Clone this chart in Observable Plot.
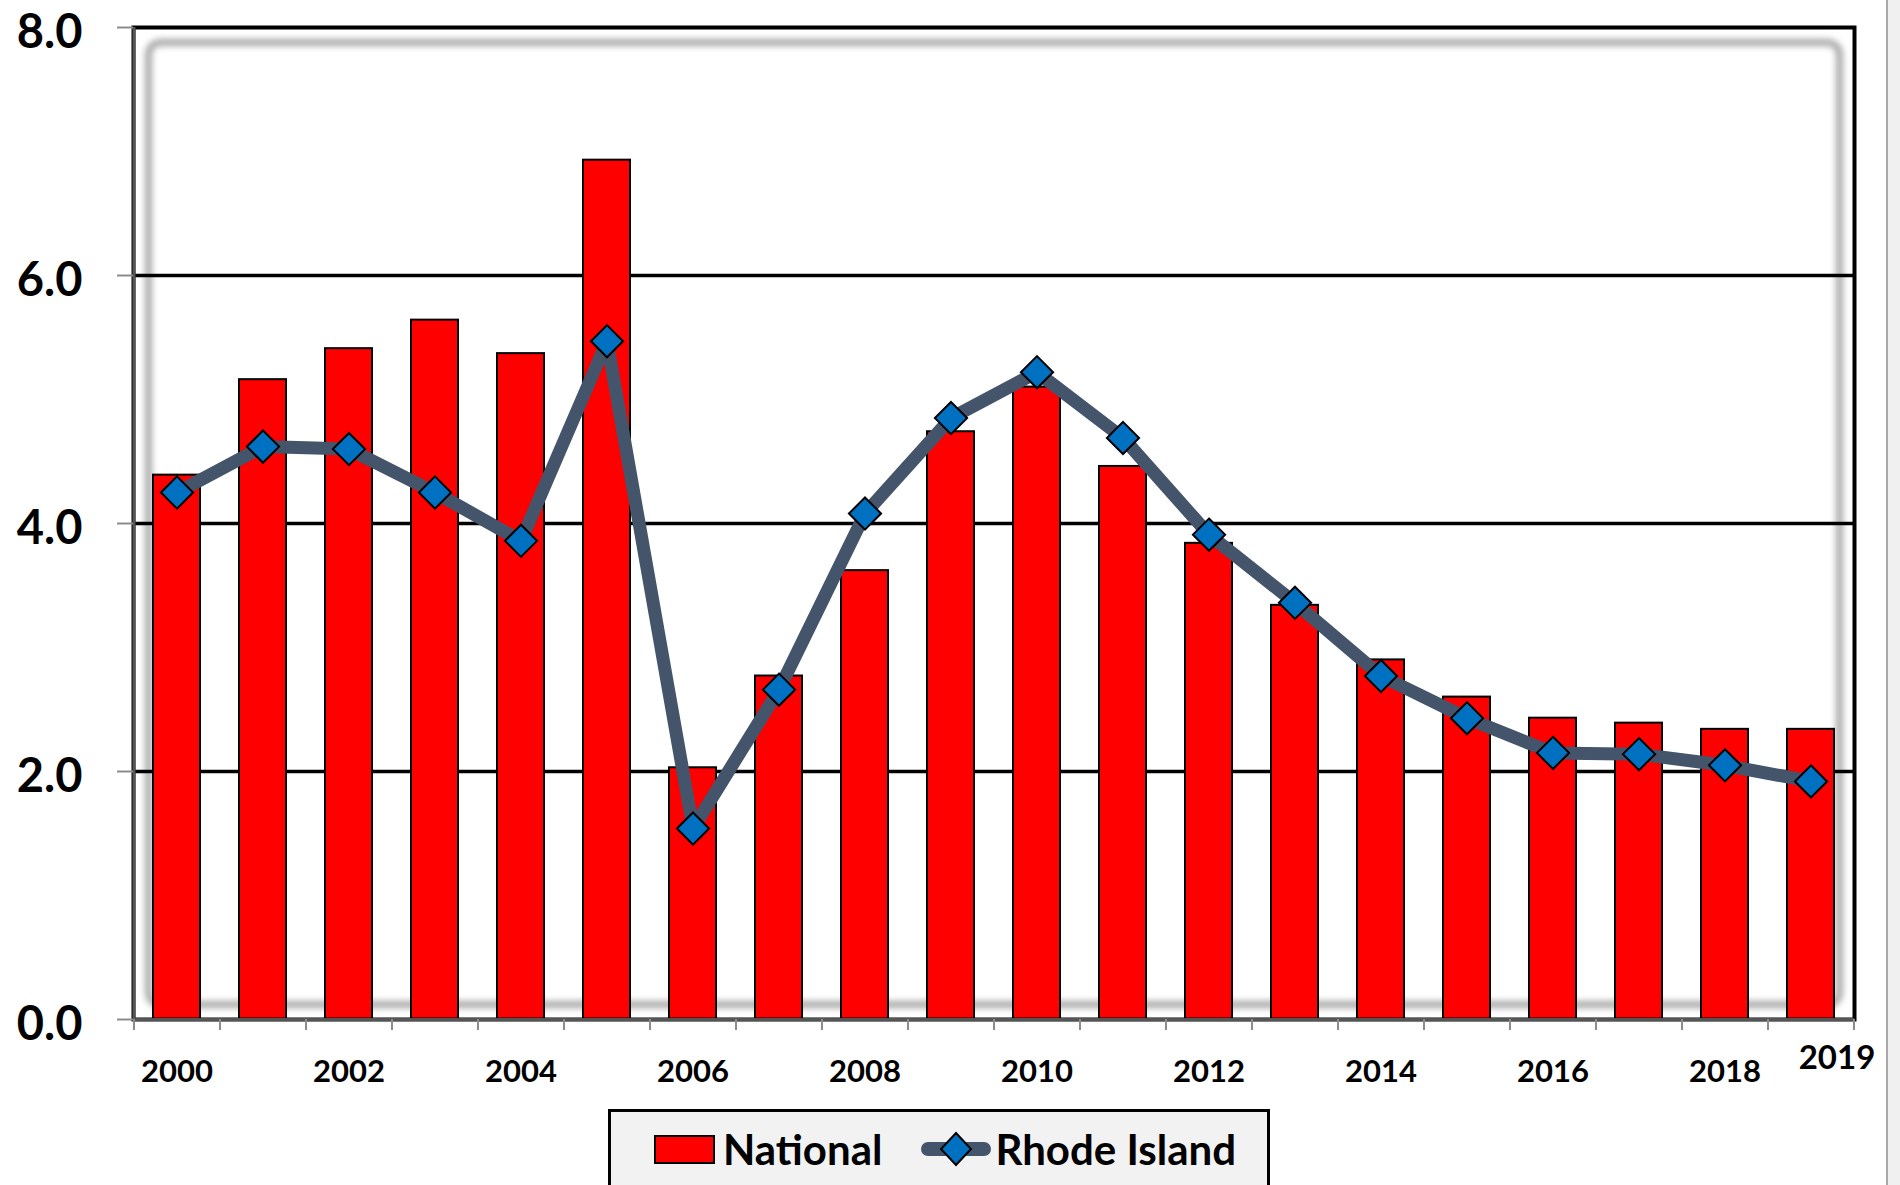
<!DOCTYPE html>
<html>
<head>
<meta charset="utf-8">
<script src="https://cdn.jsdelivr.net/npm/d3@7"></script>
<script src="https://cdn.jsdelivr.net/npm/@observablehq/plot@0.6"></script>
<style>
  html, body { margin: 0; padding: 0; background: #fff; }
  body { font-family: Lato, "Open Sans", sans-serif; width: 1900px; height: 1185px; overflow: hidden; position: relative; }
  #chart svg { display: block; }
  #legend {
    margin-left: 608px; margin-top: 9px; width: 656px; height: 74px;
    border: 3px solid #000; background: #f2f2f2;
    display: flex; align-items: center; font: bold 42px Lato, sans-serif; color: #000;
  }
  #legend .sw-bar { width: 57px; height: 25px; background: #ff0000; border: 2px solid #000; margin-left: 43px; margin-right: 8px; }
  #legend .sw-line { margin-left: 39px; margin-right: 4px; display: block; }
  #edge { position: absolute; left: 1886px; top: 0; width: 14px; height: 1185px; background: #f0f0f0; border-left: 2px solid #a8a8a8; box-sizing: border-box; }
</style>
</head>
<body>
<div id="chart"></div>
<div id="legend">
  <div class="sw-bar"></div><span>National</span>
  <svg class="sw-line" width="70" height="40" viewBox="0 0 70 40">
    <line x1="7" y1="20" x2="63" y2="20" stroke="#44546a" stroke-width="14" stroke-linecap="round"/>
    <path d="M35 4 L50 20 L35 36 L20 20 Z" fill="#0070c0" stroke="#000" stroke-width="2"/>
  </svg><span>Rhode Island</span>
</div>
<div id="edge"></div>
<script>
const years = ["2000","2001","2002","2003","2004","2005","2006","2007","2008","2009",
               "2010","2011","2012","2013","2014","2015","2016","2017","2018","2019"];
const national = [4.39, 5.16, 5.41, 5.64, 5.37, 6.93, 2.03, 2.77, 3.62, 4.74,
                  5.10, 4.46, 3.84, 3.34, 2.90, 2.60, 2.43, 2.39, 2.34, 2.34];
const rhodeIsland = [4.25, 4.62, 4.60, 4.25, 3.86, 5.47, 1.54, 2.66, 4.08, 4.85,
                     5.22, 4.69, 3.91, 3.36, 2.77, 2.43, 2.15, 2.14, 2.05, 1.92];
const yTicks = [0, 2, 4, 6, 8];
const gridValues = [2, 4, 6];
const xTickLabels = ["2000","2002","2004","2006","2008","2010","2012","2014","2016","2018"];
const lastLabel = ["2019"];

const data = years.map((year, i) => ({year, national: national[i], ri: rhodeIsland[i]}));

const W = 1900, H = 1100, mL = 133, mR = 46, mT = 27, mB = 81;
const step = (W - mL - mR) / years.length;

const chart = Plot.plot({
  width: W, height: H,
  marginLeft: mL, marginRight: mR, marginTop: mT, marginBottom: mB,
  style: {fontFamily: "Lato, 'Open Sans', sans-serif", background: "transparent"},
  x: {type: "band", domain: years, paddingInner: 0.45, paddingOuter: 0.225, label: null},
  y: {domain: [0, 8], label: null},
  marks: [
    Plot.frame({stroke: "#a8a8a8", strokeWidth: 7, inset: 15, rx: 12, fill: "none"}),
    Plot.ruleY(gridValues, {stroke: "#000", strokeWidth: 3.5}),
    Plot.barY(data, {x: "year", y: "national", fill: "#ff0000", stroke: "#000", strokeWidth: 2}),
    Plot.frame({stroke: "#000", strokeWidth: 4}),
    Plot.ruleY([0], {stroke: "#555", strokeWidth: 3}),
    Plot.ruleX([years[0]], {dx: -step / 2, stroke: "#555", strokeWidth: 3}),
    Plot.line(data, {x: "year", y: "ri", stroke: "#44546a", strokeWidth: 13, strokeLinejoin: "round", strokeLinecap: "round"}),
    Plot.dot(data, {x: "year", y: "ri", symbol: "diamond2", r: 14.5, fill: "#0070c0", stroke: "#000", strokeWidth: 2}),
    Plot.axisY({ticks: yTicks, tickSize: 16, tickFormat: () => "", stroke: "#8c8c8c", strokeWidth: 2}),
    Plot.axisY({ticks: yTicks, tickFormat: d => d.toFixed(1), tickSize: 0, tickPadding: 51, dy: 5,
                fontSize: 47, fontWeight: "bold", fill: "#000"}),
    Plot.axisX({ticks: years, tickSize: 11, tickFormat: () => "", dx: -step / 2, stroke: "#8c8c8c", strokeWidth: 2}),
    Plot.axisX({ticks: [years[years.length - 1]], tickSize: 11, tickFormat: () => "", dx: step / 2, stroke: "#8c8c8c", strokeWidth: 2}),
    Plot.axisX({ticks: xTickLabels, tickSize: 0, tickPadding: 40, fontSize: 31, fontWeight: "bold", fill: "#000"}),
    Plot.text(lastLabel, {x: d => d, frameAnchor: "bottom", dy: 49, dx: 26, fontSize: 33, fontWeight: "bold", fill: "#000"})
  ]
});

document.getElementById("chart").appendChild(chart);

// soft blur for the inner shadow frame
const svg = d3.select(chart);
svg.insert("defs", ":first-child").html(
  '<filter id="softShadow" x="-5%" y="-5%" width="110%" height="110%"><feGaussianBlur stdDeviation="3"/></filter>'
);
svg.selectAll("rect").filter(function() { return this.getAttribute("stroke") === "#a8a8a8"; })
  .attr("filter", "url(#softShadow)");
</script>
</body>
</html>
